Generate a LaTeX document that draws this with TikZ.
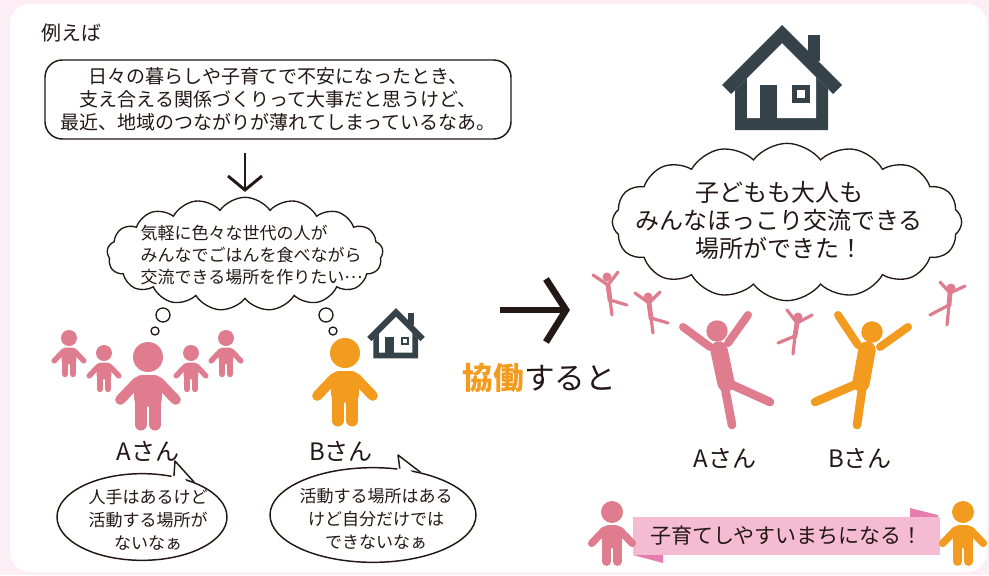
\documentclass[tikz,border=0pt]{standalone}
\usepackage{fontspec}
\setmainfont{Noto Sans CJK JP}
\usetikzlibrary{shapes.symbols,shapes.geometric,calc}

\definecolor{ink}{HTML}{231815}
\definecolor{pagepink}{HTML}{FDEDF4}
\definecolor{rose}{HTML}{DF7D8F}
\definecolor{amber}{HTML}{F39B1F}
\definecolor{slate}{HTML}{36424A}
\definecolor{ribbon}{HTML}{F4BBD3}
\definecolor{ribbonfold}{HTML}{E57DAF}

\newcommand{\fsz}[2]{\fontsize{#1}{#2}\selectfont}

% standing pictogram: head centre (#1,#2), head radius #3 (px), colour #4
\newcommand{\standfig}[4]{%
  \fill[#4] (#1,#2) circle[radius=#3];
  \fill[#4, rounded corners={0.5*#3*0.75pt}]
    ({#1-0.92*#3},{#2+3.3*#3}) rectangle ({#1+0.92*#3},{#2+1.2*#3});
  \draw[#4, line width={0.68*#3*0.75pt}, line cap=round]
    ({#1-0.7*#3},{#2+1.65*#3}) -- ({#1-1.85*#3},{#2+2.85*#3});
  \draw[#4, line width={0.68*#3*0.75pt}, line cap=round]
    ({#1+0.7*#3},{#2+1.65*#3}) -- ({#1+1.85*#3},{#2+2.85*#3});
  \draw[#4, line width={0.8*#3*0.75pt}, line cap=round]
    ({#1-0.48*#3},{#2+3.0*#3}) -- ({#1-0.48*#3},{#2+4.5*#3});
  \draw[#4, line width={0.8*#3*0.75pt}, line cap=round]
    ({#1+0.48*#3},{#2+3.0*#3}) -- ({#1+0.48*#3},{#2+4.5*#3});
}

% house icon: roof peak at (#1,#2), scale #3
\newcommand{\housefig}[3]{%
  \begin{scope}[shift={(#1,#2)}, scale=#3]
    \fill[slate] (26,10) rectangle (38,36);
    \fill[slate] (-47,65) -- (-47,105) -- (46,105) -- (46,64) -- (0,18) -- cycle;
    \fill[white] (-35,53) -- (-35,93) -- (34,93) -- (34,52) -- (0,18) -- cycle;
    \fill[slate] (0,0) -- (-60,60) -- (-51,69) -- (0,18) -- (51,69) -- (60,60) -- cycle;
    \fill[slate] (-22,60) rectangle (-5,105);
    \fill[slate] (10,60) rectangle (28,78);
    \fill[white] (15,65) rectangle (23,73);
  \end{scope}
}

\tikzset{
  say/.style={draw=ink, line width=1.1pt, fill=white, ellipse, inner sep=0pt},
  saytext/.style={text=ink, align=center, font=\fsz{12.75}{17.25}},
  think/.style={draw=ink, line width=1pt, fill=white, cloud},
  who/.style={text=ink, font=\fsz{18}{20}},
  limb/.style={line cap=round, line join=round},
}

\begin{document}
\begin{tikzpicture}[x=0.75pt, y=-0.75pt]
  \useasboundingbox (0,0) rectangle (989,575);
  \fill[pagepink] (0,0) rectangle (989,575);
  \fill[white, rounded corners=15pt] (10,4) rectangle (987,572);

  % heading
  \node[anchor=west, text=ink, font=\fsz{15}{18}] (head) at (37,33) {例えば};

  % worry box
  \node[draw=ink, line width=1.1pt, rounded corners=13pt,
        minimum width=349.5pt, minimum height=59.25pt, align=center,
        text=ink, font=\fsz{14.25}{17.25}] (worry) at (278,99.5)
    {日々の暮らしや子育てで不安になったとき、\\
     支え合える関係づくりって大事だと思うけど、\\
     最近、地域のつながりが薄れてしまっているなあ。};

  % down arrow
  \coordinate (dnA) at (245,153);
  \coordinate (dnB) at (245,190);
  \draw[ink, line width=2.2pt] (dnA) -- (dnB);
  \draw[ink, line width=2.2pt, miter limit=10] ($(dnB)+(-17,-14)$) -- (dnB) -- ($(dnB)+(17,-14)$);

  % thought cloud
  \node[think, cloud puffs=17, cloud puff arc=110, aspect=2.6,
        minimum width=207pt, minimum height=85pt] (wish) at (245,254) {};
  \node[anchor=west, text=ink, align=left, font=\fsz{12.75}{16.5}] (wishtext) at (136,255)
    {気軽に色々な世代の人が\\
     みんなでごはんを食べながら\\
     交流できる場所を作りたい\raisebox{0.3em}{…}};
  \draw[ink, line width=1pt, fill=white] (163,315) circle[radius=7] coordinate (dotA1);
  \draw[ink, line width=1pt, fill=white] (155,331) circle[radius=4] coordinate (dotA2);
  \draw[ink, line width=1pt, fill=white] (326,315) circle[radius=7] coordinate (dotB1);
  \draw[ink, line width=1pt, fill=white] (333,331) circle[radius=4] coordinate (dotB2);

  % A-san with children, B-san with house
  \standfig{69}{338}{8}{rose}
  \standfig{104}{353}{8}{rose}
  \standfig{191}{353}{8}{rose}
  \standfig{226}{338}{8}{rose}
  \standfig{148}{357}{15}{rose}
  \standfig{345}{353}{15}{amber}
  \housefig{396}{308}{0.48}
  \node[who] (nameA) at (148,451) {Aさん};
  \node[who] (nameB) at (341,451) {Bさん};

  % speech bubbles
  \node[say, minimum width=127.5pt, minimum height=65pt] (bubA) at (142,517) {};
  \coordinate (tipA) at (175,461);
  \fill[white] ($(bubA.center)!0.9!(bubA.52)$) -- (tipA) -- ($(bubA.center)!0.9!(bubA.34)$) -- cycle;
  \draw[ink, line width=1.1pt, line join=round] (bubA.52) -- (tipA) -- (bubA.34);
  \node[saytext] (bubAtext) at (148,520) {人手はあるけど\\活動する場所が\\ないなぁ};

  \node[say, minimum width=154.5pt, minimum height=71pt] (bubB) at (373,515) {};
  \coordinate (tipB) at (398,455);
  \fill[white] ($(bubB.center)!0.9!(bubB.60)$) -- (tipB) -- ($(bubB.center)!0.9!(bubB.42)$) -- cycle;
  \draw[ink, line width=1.1pt, line join=round] (bubB.60) -- (tipB) -- (bubB.42);
  \node[saytext] (bubBtext) at (376,519) {活動する場所はある\\けど自分だけでは\\できないなぁ};

  % big arrow and caption
  \coordinate (goL) at (500,310);
  \coordinate (goR) at (566,310);
  \draw[ink, line width=5.2pt] (goL) -- (goR);
  \draw[ink, line width=5pt, miter limit=10] ($(goR)+(-20,-31)$) -- (goR) -- ($(goR)+(-20,32)$);
  \node[anchor=west, text=ink, font=\fsz{23}{26}] (collab) at (458,378)
    {{\color{amber}\bfseries 協働}すると};

  % result side
  \housefig{782}{25}{1}
  \node[think, cloud puffs=16, cloud puff arc=105, aspect=2.2,
        minimum width=262pt, minimum height=118pt] (place) at (787,222) {};
  \node[text=ink, align=center, font=\fsz{18}{21}] (placetext) at (779,220)
    {子どもも大人も\\みんなほっこり交流できる\\場所ができた！};

  % small dancers
  \begin{scope}[rose, limb]
    \fill (607,277) circle[radius=4.5];
    \draw[line width=2.4pt] (593,275) -- (608,285) -- (618,272);
    \draw[line width=3.6pt] (608,285) -- (610,300);
    \draw[line width=2.4pt] (612,315) -- (610,300) -- (627,305);

    \fill (648,297) circle[radius=4.5];
    \draw[line width=2.4pt] (635,293) -- (649,303) -- (660,292);
    \draw[line width=3.6pt] (649,303) -- (651,318);
    \draw[line width=2.4pt] (653,333) -- (651,318) -- (668,323);

    \fill (798,317) circle[radius=4.5];
    \draw[line width=2.4pt] (787,310) -- (797,323) -- (812,315);
    \draw[line width=3.6pt] (797,323) -- (795,336);
    \draw[line width=2.4pt] (778,343) -- (795,336) -- (793,354);

    \fill (951,288) circle[radius=4.5];
    \draw[line width=2.4pt] (940,282) -- (950,293) -- (965,286);
    \draw[line width=3.6pt] (950,293) -- (949,305);
    \draw[line width=2.4pt] (930,315) -- (949,305) -- (947,325);
  \end{scope}

  % big dancers
  \begin{scope}[rose, limb]
    \fill (717,331) circle[radius=10.7];
    \draw[line width=6pt] (683,327) -- (710,347);
    \draw[line width=6pt] (728,343) -- (748,315);
    \draw[line width=13pt] (719,350) -- (726,383);
    \draw[line width=6.5pt] (724,383) -- (732,425);
    \draw[line width=6.5pt] (728,383) -- (770,402);
  \end{scope}
  \begin{scope}[amber, limb]
    \fill (872,332) circle[radius=10.7];
    \draw[line width=6pt] (838,315) -- (858,345);
    \draw[line width=6pt] (880,347) -- (908,327);
    \draw[line width=13pt] (867,350) -- (861,383);
    \draw[line width=6.5pt] (859,383) -- (815,402);
    \draw[line width=6.5pt] (863,383) -- (857,425);
  \end{scope}
  \node[who] (nameA2) at (725,458) {Aさん};
  \node[who] (nameB2) at (860,458) {Bさん};

  % banner
  \fill[ribbonfold] (633,555) -- (663,555) -- (663,563) -- cycle;
  \fill[ribbonfold] (910,508) -- (938,515) -- (938,517) -- (910,517) -- cycle;
  \node[fill=ribbon, minimum width=230.25pt, minimum height=28.5pt, inner sep=0pt,
        text=ink, font=\fsz{15.75}{18}] (goal) at (786.5,536) {子育てしやすいまちになる！};
  \standfig{612}{512}{11}{rose}
  \standfig{963}{512}{11}{amber}
\end{tikzpicture}
\end{document}
